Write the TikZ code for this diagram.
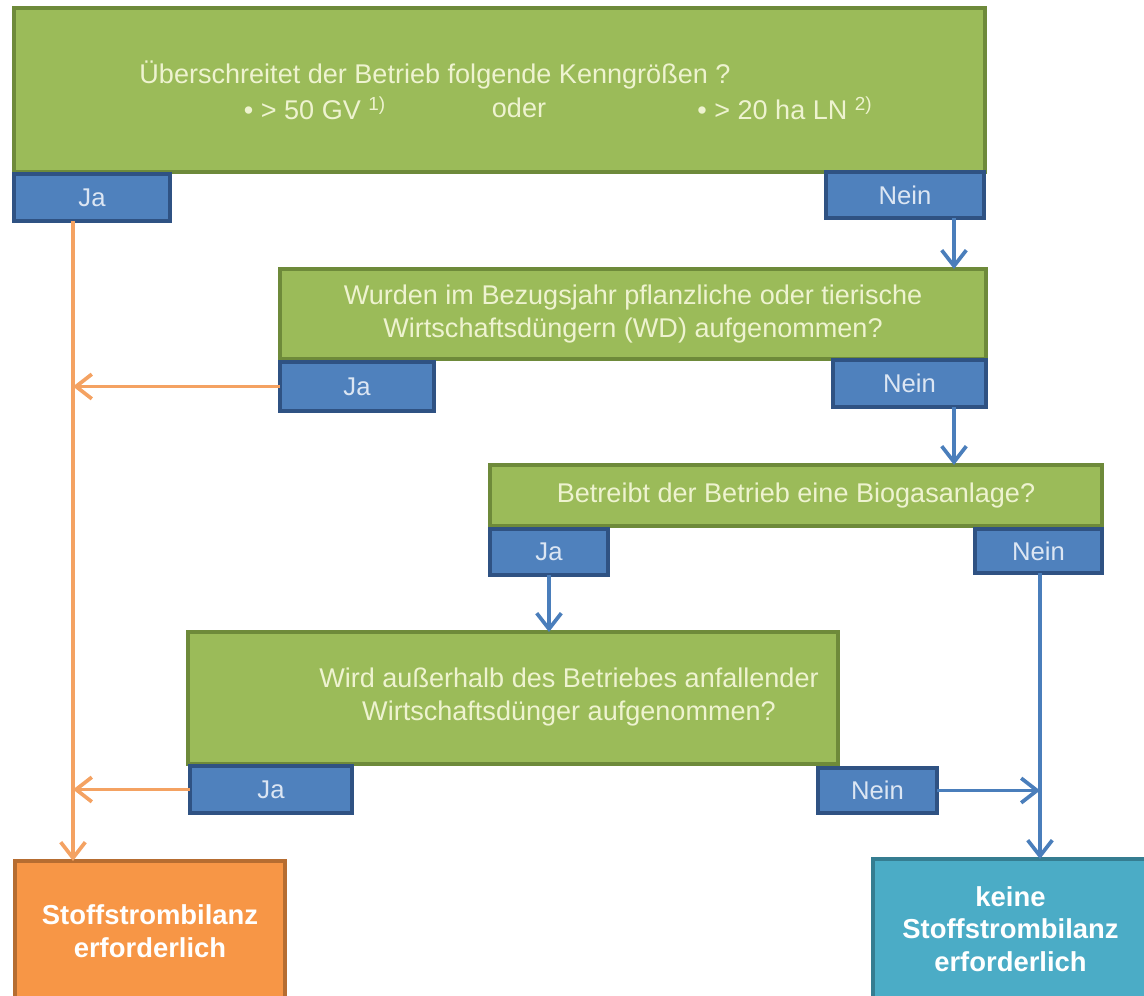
\documentclass[tikz,border=0pt]{standalone}
\usepackage{fontspec}
\setmainfont{Liberation Sans}
\usetikzlibrary{arrows.meta}
\definecolor{gfill}{HTML}{9BBB59}
\definecolor{gdraw}{HTML}{6E8A3A}
\definecolor{bfill}{HTML}{4F81BD}
\definecolor{bdraw}{HTML}{2F5283}
\definecolor{ofill}{HTML}{F79646}
\definecolor{odraw}{HTML}{B66D31}
\definecolor{tfill}{HTML}{4BACC6}
\definecolor{tdraw}{HTML}{357D91}
\definecolor{gtext}{HTML}{EEF3D0}
\definecolor{btext}{HTML}{DCE6F3}
\definecolor{oarrow}{HTML}{F4A262}
\definecolor{barrowc}{HTML}{4A7EBB}
\begin{document}
\begin{tikzpicture}[x=0.02cm,y=-0.02cm,
  sz/.style 2 args={minimum width=#1*0.02cm, minimum height=#2*0.02cm},
  qbox/.style={draw=gdraw, fill=gfill, line width=2pt, inner sep=0pt, outer sep=0pt,
    text=gtext, font=\fontsize{15.4}{19}\selectfont, align=center},
  qtext/.style={inner sep=0pt, text=gtext, font=\fontsize{15.4}{19}\selectfont, align=center},
  lab/.style={draw=bdraw, fill=bfill, line width=2pt, inner sep=0pt, outer sep=0pt,
    text=btext, font=\fontsize{14.6}{17}\selectfont},
  res/.style={line width=2pt, inner sep=0pt, outer sep=0pt, text=white,
    font=\bfseries\fontsize{15.6}{18.5}\selectfont, align=center},
  oarr/.style={draw=oarrow, line width=2.1pt, -{Straight Barb[length=9pt,width=14pt]}},
  barr/.style={draw=barrowc, line width=2.1pt, -{Straight Barb[length=9pt,width=14pt]}},
]
\useasboundingbox (0,0) rectangle (1144,996);
% question 1
\node[qbox, sz={971}{164}] (q1) at (499.5,90) {};
\node[qtext] (q1a) at (435,75) {Überschreitet der Betrieb folgende Kenngrößen ?};
\node[qtext] (q1b) at (315,108) {• > 50 GV \textsuperscript{1)}};
\node[qtext] (q1c) at (519,108) {oder};
\node[qtext] (q1d) at (785,108) {• > 20 ha LN \textsuperscript{2)}};
\node[lab, sz={156}{47}] (ja1) at (92,197.5) {Ja};
\node[lab, sz={158}{46}] (nein1) at (905,195) {Nein};
% question 2
\node[qbox, sz={706}{90}] (q2) at (633,314) {Wurden im Bezugsjahr pflanzliche oder tierische\\Wirtschaftsdüngern (WD) aufgenommen?};
\node[lab, sz={154}{49}] (ja2) at (357,386.5) {Ja};
\node[lab, sz={153}{47}] (nein2) at (909.5,383.5) {Nein};
% question 3
\node[qbox, sz={612}{61}] (q3) at (796,495.5) {Betreibt der Betrieb eine Biogasanlage?};
\node[lab, sz={118}{46}] (ja3) at (549,552) {Ja};
\node[lab, sz={127}{44}] (nein3) at (1038.5,551) {Nein};
% question 4
\node[qbox, sz={650}{132}] (q4) at (513,698) {};
\node[qtext] (q4t) at (569,697) {Wird außerhalb des Betriebes anfallender\\Wirtschaftsdünger aufgenommen?};
\node[lab, sz={162}{47}] (ja4) at (271,789.5) {Ja};
\node[lab, sz={119}{45}] (nein4) at (877.5,790.5) {Nein};
% results
\node[res, draw=odraw, fill=ofill, sz={270}{140}] (ores) at (150,931) {Stoffstrombilanz\\erforderlich};
\node[res, draw=tdraw, fill=tfill, sz={275}{140}] (tres) at (1010.5,929) {keine\\Stoffstrombilanz\\erforderlich};
% helper coordinates
\coordinate (ox) at (73,0);
\coordinate (bx1) at (954,0);
\coordinate (bx2) at (1040,0);
% connectors
\draw[barr] (nein1.south -| bx1) -- (q2.north -| bx1);
\draw[barr] (nein2.south -| bx1) -- (q3.north -| bx1);
\draw[barr] (ja3.south) -- (q4.north -| ja3.south);
\draw[oarr] (ja1.south -| ox) -- (ores.north -| ox);
\draw[oarr] (ja2.west) -- (ja2.west -| ox);
\draw[oarr] (ja4.west) -- (ja4.west -| ox);
\draw[barr] (nein3.south -| bx2) -- (tres.north -| bx2);
\draw[barr] (nein4.east) -- (nein4.east -| bx2);
\end{tikzpicture}
\end{document}
